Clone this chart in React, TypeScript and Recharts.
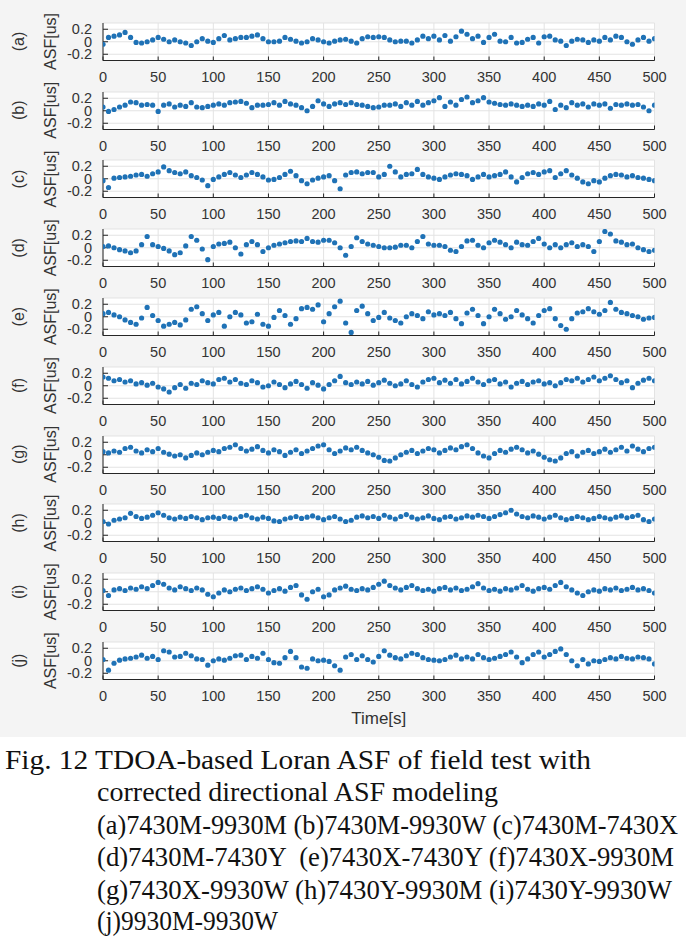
import { ScatterChart, Scatter, XAxis, YAxis, CartesianGrid } from 'recharts';

// sample spacing of the read-off values, in seconds
const SAMPLE_STEP = 5;

const xTicks = [0, 50, 100, 150, 200, 250, 300, 350, 400, 450, 500];
const yTicks = [-0.2, 0, 0.2];
const panelLabels = ['(a)', '(b)', '(c)', '(d)', '(e)', '(f)', '(g)', '(h)', '(i)', '(j)'];

// ASF [us], one value every 5 s from 0 to 500 s
const asfA = [
  -0.04, 0.07, 0.09, 0.11, 0.15, 0.07, -0.01, -0.02, 0, 0.03,
  0.07, 0.04, 0, 0.03, 0, -0.02, -0.06, 0, 0.05, 0.01,
  -0.01, 0.05, 0.1, 0.03, 0.05, 0.07, 0.07, 0.09, 0.11, 0.05,
  0, 0, 0.01, 0.07, 0.04, 0.01, -0.02, 0, 0.05, 0.03,
  0, -0.02, 0.01, 0.03, 0.04, 0.01, -0.02, 0.05, 0.08, 0.07,
  0.08, 0.07, 0.03, 0, 0.01, 0.01, -0.02, 0.03, 0.09, 0.05,
  0.09, 0.03, 0.1, 0.01, 0.08, 0.17, 0.12, 0.05, 0.09, -0.01,
  0.07, 0.12, 0.01, 0, 0.07, -0.02, -0.01, 0.04, 0.07, -0.02,
  0.08, 0.09, 0.03, 0.01, -0.06, 0.01, 0.04, 0.03, -0.01, 0.03,
  0.01, 0.07, 0.03, 0.09, 0.07, 0, -0.04, 0.03, 0.07, 0.01,
  0.05,
];
const asfB = [
  0.06, -0.01, 0.02, 0.06, 0.09, 0.14, 0.13, 0.09, 0.1, 0.09,
  -0.01, 0.09, 0.11, 0.06, 0.09, 0.07, 0.13, 0.06, 0.05, 0.07,
  0.09, 0.11, 0.09, 0.13, 0.14, 0.15, 0.12, 0.05, 0.09, 0.09,
  0.1, 0.13, 0.09, 0.15, 0.11, 0.09, 0.05, 0, 0.07, 0.16,
  0.11, 0.07, 0.11, 0.13, 0.1, 0.13, 0.1, 0.09, 0.07, 0.05,
  0.06, 0.09, 0.09, 0.11, 0.07, 0.13, 0.09, 0.15, 0.09, 0.13,
  0.16, 0.21, 0.07, 0.14, 0.09, 0.18, 0.22, 0.13, 0.16, 0.21,
  0.14, 0.12, 0.1, 0.09, 0.11, 0.09, 0.07, 0.09, 0.07, 0.11,
  0.09, 0.15, 0.02, 0.09, 0.05, 0.13, 0.09, 0.11, 0.06, 0.11,
  0.09, 0.11, 0.04, 0.1, 0.09, 0.11, 0.09, 0.1, 0.06, 0,
  0.09,
];
const asfC = [
  -0.03, -0.14, 0.01, 0.02, 0.03, 0.04, 0.06, 0.07, 0.04, 0.08,
  0.11, 0.19, 0.13, 0.1, 0.08, 0.11, 0.05, 0.02, -0.02, -0.11,
  -0.01, 0.03, 0.07, 0.1, 0.06, 0.02, 0.06, 0.1, 0.07, 0.03,
  -0.02, -0.01, 0.02, 0.07, 0.12, 0.05, -0.03, -0.08, -0.02, 0.01,
  0.03, 0.05, -0.03, -0.16, 0.06, 0.1, 0.11, 0.08, 0.1, 0.1,
  0.03, 0.07, 0.2, 0.11, 0.03, 0.07, 0.08, 0.15, 0.07, 0.03,
  0.01, -0.01, 0.03, 0.06, 0.08, 0.07, 0.05, -0.01, 0.03, 0.07,
  0.03, 0.05, 0.07, 0.11, 0.03, -0.05, 0.02, 0.08, 0.1, 0.07,
  0.11, 0.13, 0.02, 0.08, 0.13, 0.06, 0.01, -0.05, -0.08, -0.03,
  -0.05, 0.01, 0.05, 0.07, 0.06, 0.03, 0.05, 0.02, 0.01, -0.01,
  -0.03,
];
const asfD = [
  0.02, 0.03, 0, -0.03, -0.05, -0.08, -0.05, 0.05, 0.18, 0.05,
  0.02, -0.01, -0.05, -0.11, -0.08, 0.03, 0.18, 0.12, -0.02, -0.19,
  0.02, 0.06, 0.07, 0.09, 0, -0.1, 0.05, 0.1, 0.05, -0.06,
  0, 0.04, 0.06, 0.08, 0.1, 0.11, 0.1, 0.15, 0.1, 0.09,
  0.12, 0.12, 0.08, 0, -0.12, 0.02, 0.16, 0.1, 0.06, 0.04,
  0.02, 0, 0, 0.01, 0.04, 0.04, 0, 0.1, 0.18, 0.06,
  0.04, 0.04, 0.02, -0.04, -0.06, 0.02, 0.11, 0.12, 0.04, 0,
  0.08, 0.12, 0.09, 0.05, 0, 0.09, 0.05, 0.04, 0.1, 0.15,
  0.06, 0, 0.05, 0, 0.05, 0.08, 0.02, 0.05, 0.02, -0.06,
  0.1, 0.26, 0.22, 0.11, 0.09, 0.05, 0.06, 0, -0.03, -0.06,
  -0.04,
];
const asfE = [
  0.05, 0.07, 0.03, 0, -0.05, -0.09, -0.12, -0.02, 0.15, 0.02,
  -0.06, -0.15, -0.12, -0.09, -0.13, -0.05, 0.12, 0.16, 0.05, -0.06,
  0.03, 0.07, -0.15, 0, 0.07, 0.03, -0.1, -0.08, 0.04, -0.12,
  -0.15, -0.01, 0.1, 0.02, -0.12, -0.03, 0.13, 0.15, 0.12, 0.19,
  -0.08, 0.05, 0.16, 0.25, -0.1, -0.25, 0.1, 0.17, 0.05, -0.06,
  -0.01, 0.07, -0.02, -0.06, -0.1, 0, 0.05, 0.02, -0.03, 0.08,
  0.03, 0.05, 0.02, 0.07, -0.03, -0.11, 0.06, 0.12, 0.02, -0.11,
  0, 0.12, 0.05, -0.04, 0, 0.1, 0.03, -0.03, -0.1, 0.02,
  0.1, 0.13, -0.03, -0.14, -0.2, -0.03, 0.06, 0.08, 0.13, 0.08,
  0.04, 0.1, 0.23, 0.12, 0.07, 0.05, 0.02, 0, -0.04, -0.02,
  -0.01,
];
const asfF = [
  0.14, 0.12, 0.08, 0.1, 0.06, 0.08, 0.03, 0.05, 0.01, 0.04,
  -0.02, -0.05, -0.1, -0.03, 0.02, -0.04, 0.04, 0.02, 0.08, 0.05,
  0.03, 0.1, 0.12, 0.06, 0.1, 0.04, 0.02, 0.08, 0.05, -0.02,
  0, 0.06, 0.02, -0.03, 0.03, 0.07, 0.02, -0.04, 0.05, 0.01,
  -0.05, 0.02, 0.08, 0.15, 0.05, 0.02, 0.06, 0.03, 0.07, 0.01,
  0.05, 0.09, 0.04, 0, 0.03, 0.08, 0.02, -0.02, 0.06, 0.1,
  0.12, 0.05, 0.09, 0.04, 0.1, 0.03, 0.07, 0.12, 0.06, 0.02,
  0.08, 0.1, 0.03, 0.06, -0.02, 0.04, 0.07, 0.02, 0.06, 0.08,
  0.03, 0.05, 0, 0.05, 0.1, 0.08, 0.12, 0.06, 0.1, 0.14,
  0.08, 0.12, 0.16, 0.1, 0.05, 0.08, -0.03, 0.04, 0.09, 0.12,
  0.08,
];
const asfG = [
  0.05, 0.03, 0.06, 0.04, 0.1, 0.12, 0.06, 0.03, 0.08, 0.05,
  0.1, 0.04, 0.01, -0.02, 0, -0.05, -0.01, 0.03, 0, 0.04,
  0.07, 0.05, 0.1, 0.12, 0.16, 0.1, 0.06, 0.09, 0.13, 0.07,
  0.03, 0.08, 0.05, -0.01, 0.04, 0.08, 0.02, 0.06, 0.1, 0.14,
  0.16, 0.08, 0.02, 0.06, 0.11, 0.08, 0.12, 0.07, 0.03, 0,
  -0.04, -0.09, -0.1, -0.05, 0, 0.04, 0.07, 0.02, 0.06, 0.1,
  0.08, 0.03, 0.07, 0.11, 0.08, 0.13, 0.16, 0.1, 0.03, -0.02,
  -0.05, 0.02, 0.07, 0.04, 0.09, 0.12, 0.08, 0.03, 0.06, 0.01,
  -0.04, -0.08, -0.1, -0.05, 0.02, 0.05, -0.02, 0.04, 0.07, 0.02,
  0.05, 0.09, 0.04, 0.08, 0.12, 0.06, 0.14, 0.09, 0.05, 0.1,
  0.12,
];
const asfH = [
  0.02, -0.02, 0.04, 0.06, 0.08, 0.15, 0.1, 0.07, 0.09, 0.12,
  0.16, 0.12, 0.08, 0.06, 0.09, 0.07, 0.1, 0.08, 0.05, 0.08,
  0.09, 0.07, 0.1, 0.08, 0.06, 0.1, 0.12, 0.08, 0.06, 0.09,
  0.07, 0.03, 0.02, 0.06, 0.08, 0.1, 0.07, 0.09, 0.11, 0.08,
  0.05, 0.08, 0.1, 0.06, 0.02, 0.04, 0.09, 0.11, 0.08, 0.1,
  0.07, 0.12, 0.09, 0.06, 0.1, 0.13, 0.09, 0.06, 0.08, 0.11,
  0.07, 0.05, 0.09, 0.1, 0.06, 0.08, 0.11, 0.09, 0.12, 0.1,
  0.07, 0.1, 0.13, 0.16, 0.2, 0.14, 0.1, 0.08, 0.11, 0.09,
  0.06, 0.09, 0.12, 0.08, 0.05, 0.07, 0.1, 0.08, 0.05, 0.07,
  0.1, 0.08, 0.06, 0.09, 0.11, 0.08, 0.1, 0.12, 0.05, 0.02,
  0.06,
];
const asfI = [
  0.02, -0.06, 0.03, 0.05, 0.02, 0.06, 0.04, 0.08, 0.05, 0.1,
  0.15, 0.12, 0.06, 0.03, 0.08, 0.05, 0.02, 0.06, 0.03, -0.04,
  -0.08, -0.02, 0.03, 0, 0.04, 0.06, 0.02, 0.05, 0.08, 0.04,
  -0.02, 0.02, 0.05, 0.01, 0.07, 0.1, -0.05, -0.12, 0, 0.04,
  -0.08, -0.05, 0.03, 0.06, 0.09, 0.04, 0.02, 0.05, 0.03, 0.07,
  0.12, 0.17, 0.1, 0.06, 0.03, 0.07, 0.1, 0.05, 0.02, 0.04,
  0.01, 0.05, 0.07, 0.03, 0.06, 0.02, 0.04, 0.08, 0.13, 0.06,
  0.02, 0.04, 0.01, 0.05, 0.03, 0.06, 0.1, 0.04, 0.01, 0.05,
  0.07, 0.04, 0.1, 0.15, 0.08, 0.03, -0.02, -0.06, 0, 0.03,
  0.01, 0.05, 0.03, 0.06, 0.02, 0.04, 0.07, 0.03, 0.05, 0.02,
  -0.02,
];
const asfJ = [
  0.02, -0.15, -0.04, 0.01, 0.03, 0.04, 0.06, 0.09, 0.04, 0.07,
  0.02, 0.16, 0.14, 0.06, 0.07, 0.12, 0.08, 0.03, 0.02, -0.07,
  0, 0.03, 0.01, 0.04, 0.08, 0.09, 0.02, 0.07, 0.04, 0.12,
  0.02, -0.03, -0.04, 0.05, 0.15, 0.05, -0.1, -0.12, 0.03, 0,
  0.01, -0.01, -0.08, -0.15, 0.06, 0.1, 0.02, 0.08, 0.02, -0.02,
  0.07, 0.16, 0.09, 0.05, 0.03, 0.08, 0.12, 0.1, 0.05, 0.02,
  0.01, 0, 0.02, 0.06, 0.09, 0.03, 0.06, 0.03, 0.1, 0.05,
  0.02, 0.04, 0.07, 0.1, 0.14, 0.06, -0.03, 0.03, 0.1, 0.14,
  0.06, 0.1, 0.15, 0.19, 0.1, 0, -0.08, 0.02, -0.05, 0,
  -0.01, 0.02, 0.05, 0.03, 0.07, 0.04, 0.03, 0.06, 0.05, 0.03,
  -0.05,
];

const panelSeries = [asfA, asfB, asfC, asfD, asfE, asfF, asfG, asfH, asfI, asfJ];

const MARKER = '#1f72b6';
const AXIS = '#262626';
const TICK_TEXT = '#333333';
const FONT = '"Liberation Sans", Arial, sans-serif';

const CHART_W = 694;
const PLOT_TOP = 22.7;
const PANEL_PITCH = 68.8;
const PLOT_H = 37.5;
const M_TOP = 5;
const X_AXIS_H = 25;

const tickStyle = { fontSize: 14.5, fill: TICK_TEXT, fontFamily: FONT };

function Dot(props: any) {
  const { cx, cy } = props;
  if (cx == null || cy == null) return null;
  return <circle cx={cx} cy={cy} r={2.6} fill={MARKER} />;
}

function Panel({ index }: { index: number }) {
  const values = panelSeries[index];
  const data = values.map((v, i) => ({ t: i * SAMPLE_STEP, v }));
  const isLast = index === panelSeries.length - 1;
  const extraBottom = isLast ? 32 : 0;
  const height = M_TOP + PLOT_H + X_AXIS_H + extraBottom;
  const top = PLOT_TOP + index * PANEL_PITCH - M_TOP;

  return (
    <div style={{ position: 'absolute', left: 0, top }}>
      <ScatterChart
        width={CHART_W}
        height={height}
        margin={{ top: M_TOP, right: 39.5, bottom: extraBottom, left: 0 }}
      >
        <CartesianGrid stroke="#e3e3e3" fill="#ffffff" fillOpacity={1} />
        <XAxis
          dataKey="t"
          type="number"
          domain={[0, 500]}
          ticks={xTicks}
          interval={0}
          height={X_AXIS_H}
          allowDataOverflow
          stroke={AXIS}
          tickSize={-4}
          tickMargin={15}
          tick={tickStyle}
          label={
            isLast
              ? {
                  content: (p: any) => {
                    const vb = p.viewBox || {};
                    return (
                      <text
                        x={vb.x + vb.width / 2}
                        y={vb.y + 38.5}
                        textAnchor="middle"
                        dominantBaseline="central"
                        fontSize={17}
                        fontFamily={FONT}
                        fill={TICK_TEXT}
                      >
                        Time[s]
                      </text>
                    );
                  },
                }
              : undefined
          }
        />
        <XAxis
          xAxisId="top"
          orientation="top"
          type="number"
          domain={[0, 500]}
          ticks={xTicks}
          interval={0}
          height={0}
          stroke={AXIS}
          tickSize={-4}
          tick={false}
        />
        <YAxis
          dataKey="v"
          type="number"
          domain={[-0.3, 0.3]}
          ticks={yTicks}
          interval={0}
          width={103}
          allowDataOverflow
          stroke={AXIS}
          tickSize={-5}
          tickMargin={16}
          tick={tickStyle}
          tickFormatter={(v: number) => (v === 0 ? '0' : String(v))}
        />
        <YAxis
          yAxisId="right"
          orientation="right"
          type="number"
          domain={[-0.3, 0.3]}
          ticks={yTicks}
          interval={0}
          width={0}
          stroke={AXIS}
          tickSize={-5}
          tick={false}
        />
        <Scatter data={data} fill={MARKER} shape={<Dot />} isAnimationActive={false} />
      </ScatterChart>
    </div>
  );
}

const SERIF = '"Liberation Serif", "Times New Roman", serif';

export default function App() {
  return (
    <div style={{ position: 'absolute', left: 0, top: 0, width: 694, height: 943, background: '#ffffff', overflow: 'hidden' }}>
      <div style={{ position: 'absolute', left: 0, top: 0, width: 686, height: 737, background: '#f4f4f4' }} />
      {panelSeries.map((_, i) => (
        <Panel key={i} index={i} />
      ))}
      {/* panel names and y-axis titles, rotated like MATLAB ylabels */}
      <svg width={80} height={737} style={{ position: 'absolute', left: 0, top: 0, overflow: 'visible' }}>
        <g fontFamily={FONT} fill={TICK_TEXT} fontSize={16}>
          {panelLabels.map((label, i) => {
            const cy = PLOT_TOP + i * PANEL_PITCH + PLOT_H / 2;
            return (
              <g key={label}>
                <text transform={`translate(18, ${cy}) rotate(-90)`} textAnchor="middle" dominantBaseline="central">
                  {label}
                </text>
                <text transform={`translate(50, ${cy}) rotate(-90)`} textAnchor="middle" dominantBaseline="central">
                  ASF[us]
                </text>
              </g>
            );
          })}
        </g>
      </svg>
      <svg width={694} height={206} style={{ position: 'absolute', left: 0, top: 737 }}>
        <g fontFamily={SERIF} fontSize={27} fill="#111111">
          <text x={5} y={32} textLength={586} lengthAdjust="spacingAndGlyphs">
            Fig. 12 TDOA-based Loran ASF of field test with
          </text>
          <text x={97} y={64} textLength={401} lengthAdjust="spacingAndGlyphs">
            corrected directional ASF modeling
          </text>
          <text x={97} y={97} textLength={581} lengthAdjust="spacingAndGlyphs">
            (a)7430M-9930M (b)7430M-9930W (c)7430M-7430X
          </text>
          <text x={97} y={129} textLength={577} lengthAdjust="spacingAndGlyphs" xmlSpace="preserve">
            {'(d)7430M-7430Y  (e)7430X-7430Y (f)7430X-9930M'}
          </text>
          <text x={97} y={162} textLength={575} lengthAdjust="spacingAndGlyphs">
            (g)7430X-9930W (h)7430Y-9930M (i)7430Y-9930W
          </text>
          <text x={97} y={193} textLength={181} lengthAdjust="spacingAndGlyphs">
            (j)9930M-9930W
          </text>
        </g>
      </svg>
    </div>
  );
}
